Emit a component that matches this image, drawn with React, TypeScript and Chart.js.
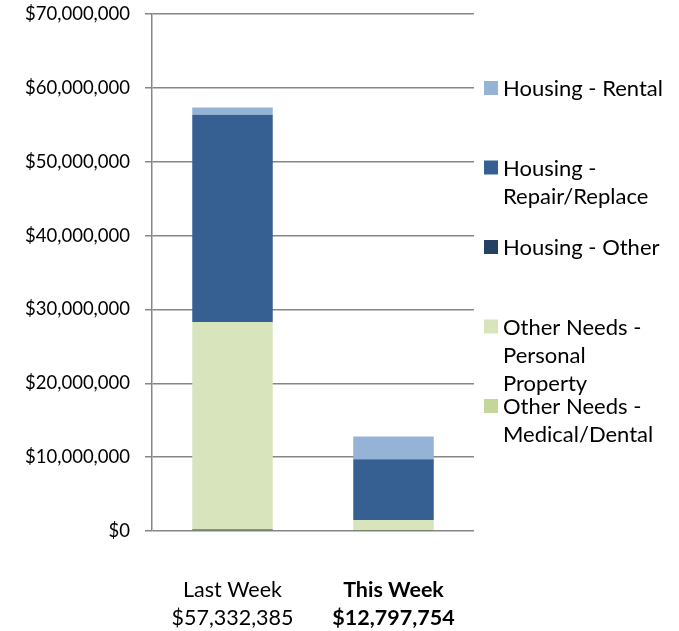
import React, { useEffect, useRef } from "react";
import { Chart, registerables } from "chart.js";

Chart.register(...registerables);

// ---- Data ----
const CATEGORIES: string[][] = [
  ["Last Week", "$57,332,385"],
  ["This Week", "$12,797,754"],
];
const SERIES_NAMES = [
  "Other Needs - Medical/Dental",
  "Other Needs - Personal Property",
  "Housing - Other",
  "Housing - Repair/Replace",
  "Housing - Rental",
];
const MEDICAL_DENTAL = [250000, 150000];
const PERSONAL_PROPERTY = [28050000, 1340000];
const HOUSING_OTHER = [0, 0];
const REPAIR_REPLACE = [28060000, 8220000];
const RENTAL = [972385, 3087754];
const Y_TICKS = [0, 10000000, 20000000, 30000000, 40000000, 50000000, 60000000, 70000000];

// legend wrapping, as in the reference
const LEGEND_LINES: string[][] = [
  ["Other Needs -", "Medical/Dental"],
  ["Other Needs -", "Personal", "Property"],
  ["Housing - Other"],
  ["Housing -", "Repair/Replace"],
  ["Housing - Rental"],
];

// ---- Style ----
const LEGEND_COLORS = ["#C4D79B", "#D8E4BC", "#244062", "#366092", "#95B3D7"];
const BAR_COLORS = ["#5F7A32", "#D8E4BC", "#244062", "#366092", "#95B3D7"];
const FONT = "Lato";
const Y_FONT_SIZE = 18.5;
const X_FONT_SIZE = 21.5;
const LEGEND_FONT_SIZE = 22;
const GRID = "#868686";

const sideLegend = {
  id: "sideLegend",
  afterDraw(chart: any) {
    const ctx = chart.ctx;
    const area = chart.chartArea;
    const x0 = area.right + 10;
    ctx.save();
    ctx.font = `${LEGEND_FONT_SIZE}px ${FONT}`;
    ctx.textBaseline = "middle";
    ctx.textAlign = "left";
    const n = chart.data.datasets.length;
    for (let k = 0; k < n; k++) {
      const idx = n - 1 - k;
      const cy = 88 + k * 79.5;
      ctx.fillStyle = LEGEND_COLORS[idx];
      ctx.fillRect(x0, cy - 7, 14, 14);
      ctx.fillStyle = "#000";
      LEGEND_LINES[idx].forEach((ln, j) => ctx.fillText(ln, x0 + 19, cy + 1 + j * 28));
    }
    ctx.restore();
  },
};

export default function App() {
  const ref = useRef<HTMLCanvasElement | null>(null);
  useEffect(() => {
    if (!ref.current) return;
    const values = [MEDICAL_DENTAL, PERSONAL_PROPERTY, HOUSING_OTHER, REPAIR_REPLACE, RENTAL];
    const chart = new Chart(ref.current, {
      type: "bar",
      data: {
        labels: CATEGORIES as any,
        datasets: values.map((v, i) => ({
          label: SERIES_NAMES[i],
          data: v,
          backgroundColor: BAR_COLORS[i],
          borderWidth: 0,
          categoryPercentage: 0.5,
          barPercentage: 1,
        })),
      },
      options: {
        responsive: false,
        animation: false,
        layout: { padding: { top: 14, right: 205, left: 0, bottom: 0 } },
        plugins: {
          legend: { display: false },
          tooltip: { enabled: false },
        },
        scales: {
          x: {
            stacked: true,
            grid: { display: false, drawTicks: false },
            border: { display: false },
            afterFit: (s: any) => {
              s.height = 100;
              s.paddingTop = 0;
              s.paddingBottom = 0;
            },
            ticks: {
              color: "#000",
              padding: 46,
              font: (c: any) => ({
                family: FONT,
                size: X_FONT_SIZE,
                lineHeight: 1.26,
                weight: c.index === 1 ? "bold" : "normal",
              }),
            },
          },
          y: {
            stacked: true,
            min: 0,
            max: 70000000,
            afterFit: (s: any) => {
              s.width = 152;
              s.paddingTop = 0;
              s.paddingBottom = 0;
            },
            afterBuildTicks: (s: any) => {
              s.ticks = Y_TICKS.map((v) => ({ value: v }));
            },
            grid: { color: GRID, lineWidth: 1.5, tickLength: 7 },
            border: { color: GRID, width: 1.5 },
            ticks: {
              color: "#000",
              padding: 15,
              font: { family: FONT, size: Y_FONT_SIZE },
              callback: (v: any) => "$" + Number(v).toLocaleString("en-US"),
            },
          },
        },
      },
      plugins: [sideLegend],
    });
    return () => chart.destroy();
  }, []);
  return (
    <div style={{ position: "fixed", left: 0, top: 0, width: 679, height: 631, background: "#fff" }}>
      <canvas ref={ref} width={679} height={631} />
    </div>
  );
}
